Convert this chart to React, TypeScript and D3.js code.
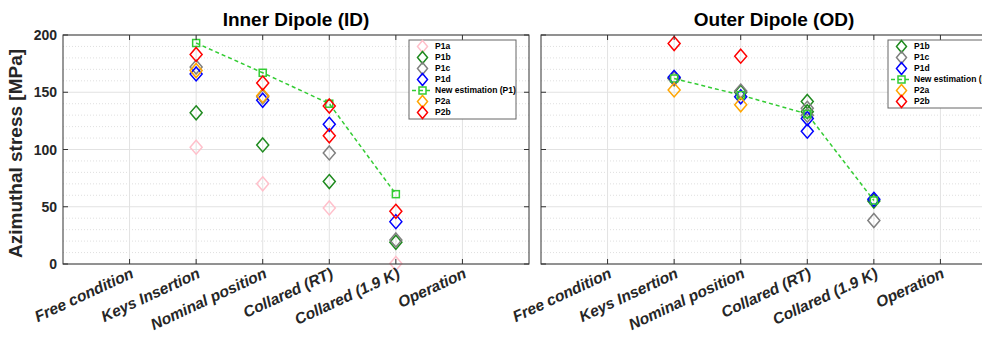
import React from 'react'
import * as d3 from 'd3'

const categories = ['Free condition', 'Keys Insertion', 'Nominal position', 'Collared (RT)', 'Collared (1.9 K)', 'Operation']
const yTicks = [0, 50, 100, 150, 200]

type V = number | number[] | null

// Inner dipole (ID)
const idP1a: V[] = [null, 102, 70, 49, 0.5, null]
const idP1b: V[] = [null, 132, 104, 72, 19, null]
const idP1c: V[] = [null, 172, 146, 97, 21, null]
const idP1d: V[] = [null, 166, 143, 122, 37, null]
const idNewEst: V[] = [null, 193, 167, 140, 61, null]
const idP2a: V[] = [null, 169, 147, null, null, null]
const idP2b: V[] = [null, 183, 158, [138, 112], 46, null]

// Outer dipole (OD)
const odP1b: V[] = [null, 162, 150, [142, 133], 55, null]
const odP1c: V[] = [null, 162, 151, [136, 130], 38, null]
const odP1d: V[] = [null, 163, 146, [127, 116], 56.5, null]
const odNewEst: V[] = [null, 162, 147.5, 131, 55.5, null]
const odP2a: V[] = [null, 152, 139, null, null, null]
const odP2b: V[] = [null, 192.5, 181.5, null, null, null]

type Series = { name: string, values: V[], color: string, line?: boolean }

const colors: Record<string, string> = {
  P1a: '#ffc0cb', P1b: '#1f8a1f', P1c: '#808080', P1d: '#0000ff',
  'New estimation (P1)': '#33cc33', P2a: '#ffa500', P2b: '#ff0000'
}

const idSeries: Series[] = [
  { name: 'P1a', values: idP1a, color: colors.P1a },
  { name: 'P1b', values: idP1b, color: colors.P1b },
  { name: 'P1c', values: idP1c, color: colors.P1c },
  { name: 'P1d', values: idP1d, color: colors.P1d },
  { name: 'New estimation (P1)', values: idNewEst, color: colors['New estimation (P1)'], line: true },
  { name: 'P2a', values: idP2a, color: colors.P2a },
  { name: 'P2b', values: idP2b, color: colors.P2b },
]

const odSeries: Series[] = [
  { name: 'P1b', values: odP1b, color: colors.P1b },
  { name: 'P1c', values: odP1c, color: colors.P1c },
  { name: 'P1d', values: odP1d, color: colors.P1d },
  { name: 'New estimation (P1)', values: odNewEst, color: colors['New estimation (P1)'], line: true },
  { name: 'P2a', values: odP2a, color: colors.P2a },
  { name: 'P2b', values: odP2b, color: colors.P2b },
]

const FONT = 'Liberation Sans, Arial, sans-serif'
const top = 35
const bottom = 264
const plotW = 466

const diamond = (cx: number, cy: number, w = 6, h = 7) =>
  `M${cx},${cy - h}L${cx + w},${cy}L${cx},${cy + h}L${cx - w},${cy}Z`

function points(values: V[]) {
  const out: [number, number][] = []
  values.forEach((v, i) => {
    if (v == null) return
    const arr = Array.isArray(v) ? v : [v]
    arr.forEach(val => out.push([i + 1, val]))
  })
  return out
}

function Marker({ s, cx, cy, small }: { s: Series, cx: number, cy: number, small?: boolean }) {
  if (s.line) {
    return <rect x={cx - 3.5} y={cy - 3.5} width={7} height={7} fill="none" stroke={s.color} strokeWidth={1.5} />
  }
  return <path d={small ? diamond(cx, cy, 5, 6) : diamond(cx, cy)} fill="none" stroke={s.color} strokeWidth={1.5} />
}

function Panel({ left, title, series, showY, legendX }: { left: number, title: string, series: Series[], showY: boolean, legendX: number }) {
  const x = d3.scaleLinear().domain([0, 7]).range([left, left + plotW])
  const y = d3.scaleLinear().domain([0, 200]).range([bottom, top])
  const minor = d3.range(0, 201, 10).filter(v => v % 50 !== 0)
  const line = d3.line<[number, number]>().x(d => x(d[0])).y(d => y(d[1]))
  const legendW = series.length === 7 ? 107 : 110
  const rowH = 11

  return (
    <g>
      <rect x={left} y={top} width={plotW} height={bottom - top} fill="#fff" />
      {minor.map(v => (
        <line key={'m' + v} x1={left} x2={left + plotW} y1={y(v)} y2={y(v)} stroke="#d8d8d8" strokeWidth={0.8} strokeDasharray="1,2" />
      ))}
      {yTicks.map(v => (
        <line key={'g' + v} x1={left} x2={left + plotW} y1={y(v)} y2={y(v)} stroke="#e2e2e2" strokeWidth={1} />
      ))}
      {categories.map((c, i) => (
        <line key={'v' + c} x1={x(i + 1)} x2={x(i + 1)} y1={top} y2={bottom} stroke="#e2e2e2" strokeWidth={1} />
      ))}
      {series.filter(s => s.line).map(s => (
        <path key={'l' + s.name} d={line(points(s.values)) || ''} fill="none" stroke={s.color} strokeWidth={1.5} strokeDasharray="4,3" />
      ))}
      {series.map(s => (
        <g key={s.name}>
          {points(s.values).map(([c, v], j) => (
            <Marker key={j} s={s} cx={x(c)} cy={y(v)} />
          ))}
        </g>
      ))}
      <rect x={left} y={top} width={plotW} height={bottom - top} fill="none" stroke="#333" strokeWidth={1} />
      {categories.map((c, i) => (
        <g key={'t' + c}>
          <line x1={x(i + 1)} x2={x(i + 1)} y1={bottom} y2={bottom - 5} stroke="#333" />
          <line x1={x(i + 1)} x2={x(i + 1)} y1={top} y2={top + 5} stroke="#333" />
          <text transform={`translate(${x(i + 1) + 5},${bottom + 13}) rotate(-25)`} textAnchor="end"
            fontFamily={FONT} fontSize={15.5} fontWeight="bold" fontStyle="italic" fill="#262626">{c}</text>
        </g>
      ))}
      {yTicks.map(v => (
        <g key={'yt' + v}>
          <line x1={left} x2={left + 5} y1={y(v)} y2={y(v)} stroke="#333" />
          <line x1={left + plotW} x2={left + plotW - 5} y1={y(v)} y2={y(v)} stroke="#333" />
          {showY && (
            <text x={left - 6} y={y(v)} dy="0.36em" textAnchor="end" fontFamily={FONT} fontSize={14} fontWeight="bold" fill="#262626">{v}</text>
          )}
        </g>
      ))}
      <text x={left + plotW / 2} y={26} textAnchor="middle" fontFamily={FONT} fontSize={19} fontWeight="bold" fill="#000">{title}</text>
      <g>
        <rect x={legendX} y={40} width={legendW} height={series.length * rowH + 2} fill="#fff" stroke="#666" strokeWidth={1} />
        {series.map((s, i) => {
          const cy = 46.5 + i * rowH
          return (
            <g key={'lg' + s.name}>
              {s.line && <line x1={legendX + 3} x2={legendX + 24} y1={cy} y2={cy} stroke={s.color} strokeWidth={1.5} strokeDasharray="4,3" />}
              <Marker s={s} cx={legendX + 13.5} cy={cy} small />
              <text x={legendX + 26} y={cy} dy="0.35em" fontFamily={FONT} fontSize={8.5} fontWeight="bold" fill="#000">{s.name}</text>
            </g>
          )
        })}
      </g>
    </g>
  )
}

export default function App() {
  return (
    <svg width={990} height={351} style={{ display: 'block', margin: '-8px', background: '#fff' }}>
      <rect width={990} height={351} fill="#fff" />
      <Panel left={63} title="Inner Dipole (ID)" series={idSeries} showY={true} legendX={409} />
      <Panel left={541} title="Outer Dipole  (OD)" series={odSeries} showY={false} legendX={888} />
      <text transform={`translate(22,${(top + bottom) / 2 + 4}) rotate(-90)`} textAnchor="middle"
        fontFamily={FONT} fontSize={19} fontWeight="bold" fill="#262626">Azimuthal stress [MPa]</text>
    </svg>
  )
}
